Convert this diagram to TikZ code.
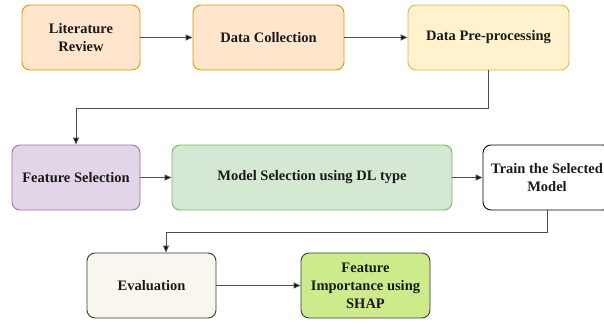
\documentclass[tikz,border=0pt]{standalone}
\usepackage{fontspec}
\setmainfont{Liberation Serif}
\usetikzlibrary{arrows.meta}
\definecolor{orfill}{HTML}{FFE6CC}\definecolor{ordraw}{HTML}{D79B00}
\definecolor{yefill}{HTML}{FFF2CC}\definecolor{yedraw}{HTML}{D6B656}
\definecolor{pufill}{HTML}{E1D5E7}\definecolor{pudraw}{HTML}{9673A6}
\definecolor{grfill}{HTML}{D5E8D4}\definecolor{grdraw}{HTML}{82B366}
\definecolor{evfill}{HTML}{F9F7ED}\definecolor{evdraw}{HTML}{36393D}
\definecolor{limefill}{HTML}{CDEB8B}
\definecolor{linecol}{HTML}{4D4D4D}
\tikzset{
  box/.style={draw, rounded corners=8pt, line width=0.9pt, align=center,
    font=\fontsize{14.5}{18}\selectfont\bfseries, text=black!90,
    minimum height=65pt, inner sep=2pt},
  arr/.style={draw=linecol, line width=1pt,
    -{Triangle[length=7pt,width=6pt,fill=black]}}
}
\begin{document}
\begin{tikzpicture}[x=1pt,y=-1pt]
\useasboundingbox (0,0) rectangle (604,322);
% first row
\node[box, fill=orfill, draw=ordraw, minimum width=118pt] (lit) at (81,37.5) {Literature\\Review};
\node[box, fill=orfill, draw=ordraw, minimum width=151pt] (dc) at (268.5,37.5) {Data Collection};
\node[box, fill=yefill, draw=yedraw, minimum width=161pt] (pre) at (488.5,37.5) {Data Pre-processing};
% second row
\node[box, fill=pufill, draw=pudraw, minimum width=128pt] (fs) at (76,177.5) {Feature Selection};
\node[box, fill=grfill, draw=grdraw, minimum width=280pt] (ms) at (312,177.5) {Model Selection using DL type};
\node[box, fill=white, draw=black, minimum width=128pt] (tr) at (547,177.5) {Train the Selected\\Model};
% third row
\node[box, fill=evfill, draw=evdraw, minimum width=129pt] (ev) at (151.5,285.5) {Evaluation};
\node[box, fill=limefill, draw=evdraw, minimum width=129pt] (fi) at (365.5,285.5) {Feature\\Importance using\\SHAP};
% connectors
\draw[arr] (lit) -- (dc);
\draw[arr] (dc) -- (pre);
\draw[arr] (pre.south) -- ++(0,38) -| (fs.north);
\draw[arr] (fs) -- (ms);
\draw[arr] (ms) -- (tr);
\draw[arr] (tr.south) -- ++(0,22) -| ([xshift=14.5pt]ev.north);
\draw[arr] (ev) -- (fi);
\end{tikzpicture}
\end{document}
